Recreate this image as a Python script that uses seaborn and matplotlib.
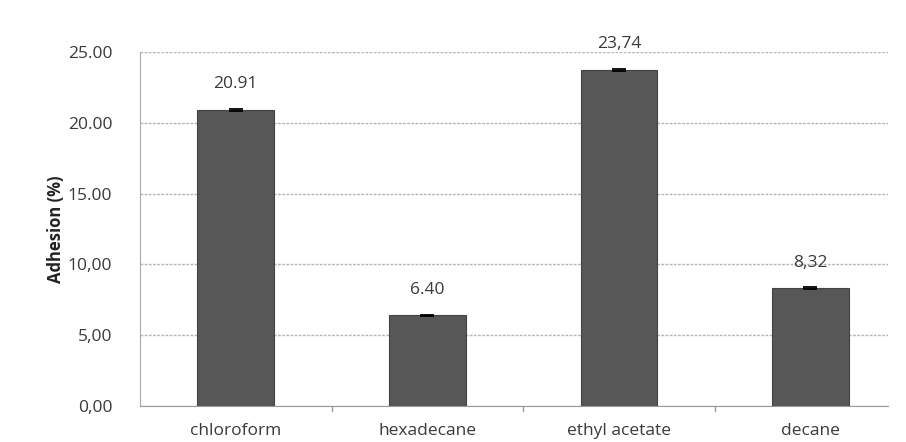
import numpy as np
import pandas as pd
import matplotlib
matplotlib.use("Agg")
import matplotlib.pyplot as plt
import seaborn as sns

# data
solvents = ["chloroform", "hexadecane", "ethyl acetate", "decane"]
adhesion = [20.91, 6.40, 23.74, 8.32]
errors = [0.06, 0.06, 0.06, 0.06]
value_labels = ["20.91", "6.40", "23,74", "8,32"]
y_ticks = [0, 5, 10, 15, 20, 25]
y_tick_labels = ["0,00", "5,00", "10,00", "15.00", "20.00", "25.00"]

df = pd.DataFrame({"Solvent": solvents, "Adhesion": adhesion})

sns.set_style("white")
plt.rcParams["font.family"] = ["Open Sans", "DejaVu Sans"]

fig = plt.figure(figsize=(9.06, 4.42), dpi=100)
ax = fig.add_axes([0.1545, 0.0814, 0.8257, 0.8009])

sns.barplot(data=df, x="Solvent", y="Adhesion", color="#575757", width=0.40,
            edgecolor="#444444", linewidth=0.8, saturation=1, errorbar=None, ax=ax)
ax.errorbar(np.arange(len(solvents)), adhesion, yerr=errors, fmt="none",
            ecolor="black", elinewidth=1, capsize=5, capthick=1.3)

for i, (v, lab) in enumerate(zip(adhesion, value_labels)):
    ax.text(i, v + 1.25, lab, ha="center", va="bottom", fontsize=12.5, color="#3a3a3a")

ax.set_xlim(-0.5, 3.405)
ax.set_ylim(0, 25)
ax.set_yticks(y_ticks)
ax.set_yticklabels(y_tick_labels, fontsize=12.5, color="#3a3a3a")
ax.set_xticks(range(len(solvents)))
ax.set_xticklabels(solvents, fontsize=12.5, color="#3a3a3a")
ax.tick_params(axis="x", length=0, pad=12)
ax.tick_params(axis="y", length=0, pad=20)

# tick marks between categories
for b in [0.5, 1.5, 2.5]:
    ax.plot([b, b], [0, -0.35], color="#999999", lw=1, clip_on=False)

ax.yaxis.grid(True, color="#b5b5b5", linestyle=(0, (2, 1)), linewidth=1)
ax.set_axisbelow(True)
for s in ["top", "right"]:
    ax.spines[s].set_visible(False)
ax.spines["left"].set_color("#aaaaaa")
ax.spines["bottom"].set_color("#999999")
ax.set_xlabel("")
ax.set_ylabel("Adhesion (%)", fontsize=12, fontweight="bold", color="#222222", labelpad=2)

fig.savefig("out.png", dpi=100)
